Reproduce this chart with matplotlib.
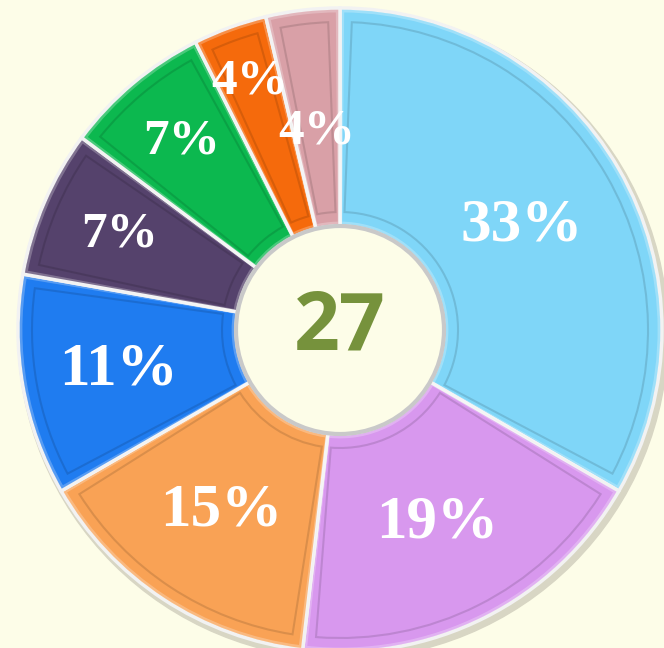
import matplotlib.pyplot as plt
from matplotlib.patches import Circle, Wedge

# ==============================
# DATOS
# ==============================
conteos = [9, 5, 4, 3, 2, 2, 1, 1]
etiquetas = ["33%", "19%", "15%", "11%", "7%", "7%", "4%", "4%"]
colores = ["#7FD6F8", "#D898EE", "#F9A255", "#1F7CF0",
           "#55426C", "#0CB84F", "#F56A0C", "#D9A0A7"]
total = "27"

# distancia de cada etiqueta (fraccion del radio) y tamano de letra
dist_etq = [0.65, 0.67, 0.67, 0.70, 0.745, 0.765, 0.82, 0.62]
tam_etq = [44, 44, 44, 44, 37, 37, 37, 37]

fondo = "#FDFDE8"
cx, cy = 340, 648 - 330
R = 322
r_hueco = 104

fig = plt.figure(figsize=(6.64, 6.48), dpi=100)
fig.patch.set_facecolor(fondo)
ax = fig.add_axes([0, 0, 1, 1])
ax.set_xlim(0, 664)
ax.set_ylim(0, 648)
ax.set_aspect("equal")
ax.axis("off")

# sombra suave del anillo
ax.add_patch(Circle((cx + 3, cy - 4), R + 3, color="#D8D6C4", zorder=0))

wedges, _ = ax.pie(conteos, colors=colores, startangle=90, counterclock=False,
                   radius=R, center=(cx, cy), frame=True,
                   wedgeprops=dict(width=R - r_hueco, edgecolor="#F2F2F2", linewidth=2.5))

# efecto de bisel: contorno interior mas oscuro
for w in wedges:
    t1, t2 = w.theta1, w.theta2
    ax.add_patch(Wedge((cx, cy), R - 14, t1 + 2.2, t2 - 2.2, width=R - r_hueco - 28,
                       fill=False, edgecolor="black", alpha=0.12, linewidth=1.5, zorder=3))
    ax.add_patch(Wedge((cx, cy), R - 3, t1 + 0.5, t2 - 0.5, width=R - r_hueco - 6,
                       fill=False, edgecolor="white", alpha=0.25, linewidth=2, zorder=3))

ax.set_xlim(0, 664)
ax.set_ylim(0, 648)
ax.axis("off")

# hueco central
ax.add_patch(Circle((cx, cy), r_hueco, facecolor=fondo, edgecolor="#C9C9C9", linewidth=3, zorder=4))

import numpy as np
for w, etq, d, s in zip(wedges, etiquetas, dist_etq, tam_etq):
    ang = np.deg2rad((w.theta1 + w.theta2) / 2)
    x = cx + d * R * np.cos(ang)
    y = cy + d * R * np.sin(ang)
    ax.text(x, y, etq, ha="center", va="center", color="white", fontsize=s,
            fontweight="bold", family="Liberation Serif", zorder=5)

ax.text(cx, cy + 2, total, ha="center", va="center", color="#76923C", fontsize=58,
        fontweight="bold", family="Open Sans", zorder=5)

fig.savefig("out.png", dpi=100, facecolor=fondo)
plt.close(fig)
